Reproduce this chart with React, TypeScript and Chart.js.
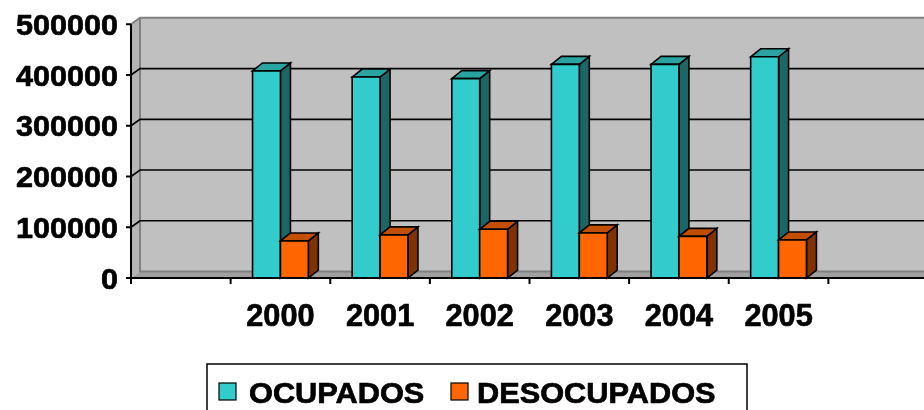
import React, { useEffect, useRef } from 'react';
import { Chart, registerables } from 'chart.js';

Chart.register(...registerables);

// ---- data ----
const categories = ['', '2000', '2001', '2002', '2003', '2004', '2005', ''];
const ocupados = [null, 408000, 396000, 393000, 421000, 421000, 436000, null];
const desocupados = [null, 73000, 85000, 96000, 89000, 82000, 75000, null];
const yTicks = [0, 100000, 200000, 300000, 400000, 500000];
const seriesNames = ['OCUPADOS', 'DESOCUPADOS'];

// ---- styles ----
const FRONT = ['#33CCCC', '#FF6600'];
const TOP = ['#2AA3A3', '#C24E00'];
const SIDE = ['#1D6666', '#803300'];
const FONT = '"Liberation Sans", Arial, sans-serif';

const CW = 932;
const CH = 410;

function drawScaledText(ctx: CanvasRenderingContext2D, text: string, x: number, y: number, font: string, sx: number, align: CanvasTextAlign) {
  ctx.save();
  ctx.translate(x, y);
  ctx.scale(sx, 1);
  ctx.font = font;
  ctx.textAlign = align;
  ctx.textBaseline = 'alphabetic';
  ctx.fillStyle = '#000';
  ctx.strokeStyle = '#000';
  ctx.lineWidth = 0.7;
  ctx.lineJoin = 'round';
  ctx.fillText(text, 0, 0);
  ctx.strokeText(text, 0, 0);
  ctx.restore();
}

function poly(ctx: CanvasRenderingContext2D, pts: number[][], fill: string | null, stroke: string | null, lw = 1.5) {
  ctx.beginPath();
  ctx.moveTo(pts[0][0], pts[0][1]);
  for (let i = 1; i < pts.length; i++) ctx.lineTo(pts[i][0], pts[i][1]);
  ctx.closePath();
  if (fill) {
    ctx.fillStyle = fill;
    ctx.fill();
  }
  if (stroke) {
    ctx.strokeStyle = stroke;
    ctx.lineWidth = lw;
    ctx.stroke();
  }
}

const threeD = {
  id: 'threeD',
  beforeDatasetsDraw(chart: any) {
    const { ctx, chartArea: a, scales } = chart;
    const ys = scales.y;
    const xs = scales.x;
    const WX = 9;
    const WY = -6.5;
    ctx.save();
    ctx.lineJoin = 'miter';

    // side wall
    poly(ctx, [[a.left, a.top], [a.left + WX, a.top + WY], [a.left + WX, a.bottom + WY], [a.left, a.bottom]], '#B4B4B4', null);
    // back wall
    ctx.fillStyle = '#C0C0C0';
    ctx.fillRect(a.left + WX, a.top + WY, a.right - a.left + 20, a.bottom - a.top);
    // floor
    poly(ctx, [[a.left, a.bottom], [a.left + WX, a.bottom + WY], [a.right + WX + 20, a.bottom + WY], [a.right + 20, a.bottom]], '#A0A0A0', null);

    // wall edges
    ctx.strokeStyle = '#808080';
    ctx.lineWidth = 2;
    ctx.beginPath();
    ctx.moveTo(a.left, a.top);
    ctx.lineTo(a.left + WX, a.top + WY);
    ctx.lineTo(a.right + 40, a.top + WY);
    ctx.moveTo(a.left + WX, a.top + WY);
    ctx.lineTo(a.left + WX, a.bottom + WY);
    ctx.lineTo(a.right + 40, a.bottom + WY);
    ctx.stroke();

    // gridlines
    ctx.strokeStyle = '#000';
    ctx.lineWidth = 1.7;
    for (const v of yTicks) {
      if (v === 0 || v === yTicks[yTicks.length - 1]) continue;
      const py = ys.getPixelForValue(v);
      ctx.beginPath();
      ctx.moveTo(a.left, py);
      ctx.lineTo(a.left + WX, py + WY);
      ctx.lineTo(a.right + 40, py + WY);
      ctx.stroke();
    }

    // bars
    const BX = 10;
    const BY = -8;
    const metas = [chart.getDatasetMeta(0), chart.getDatasetMeta(1)];
    for (let i = 0; i < categories.length; i++) {
      for (let d = 0; d < metas.length; d++) {
        const raw = chart.data.datasets[d].data[i];
        if (raw === null || raw === undefined) continue;
        const el = metas[d].data[i];
        const p = el.getProps(['x', 'y', 'base', 'width'], true);
        const l = p.x - p.width / 2;
        const r = p.x + p.width / 2;
        const t = Math.min(p.y, p.base);
        const b = Math.max(p.y, p.base);
        poly(ctx, [[r, t], [r + BX, t + BY], [r + BX, b + BY], [r, b]], SIDE[d], '#000', 1.6);
        poly(ctx, [[l, t], [l + BX, t + BY], [r + BX, t + BY], [r, t]], TOP[d], '#000', 1.6);
        poly(ctx, [[l, t], [r, t], [r, b], [l, b]], FRONT[d], '#000', 1.6);
      }
    }

    // axes
    ctx.strokeStyle = '#000';
    ctx.lineWidth = 2;
    ctx.beginPath();
    ctx.moveTo(a.left, a.top);
    ctx.lineTo(a.left, a.bottom + 6);
    ctx.moveTo(a.left - 1, a.bottom);
    ctx.lineTo(a.right + 10, a.bottom);
    for (const v of yTicks) {
      const py = ys.getPixelForValue(v);
      ctx.moveTo(a.left - 5, py);
      ctx.lineTo(a.left, py);
    }
    const n = categories.length;
    for (let i = 1; i <= n; i++) {
      const px = xs.getPixelForValue(i - 0.5);
      ctx.moveTo(px, a.bottom);
      ctx.lineTo(px, a.bottom + 6);
    }
    ctx.stroke();
    ctx.restore();
    return false;
  },
  afterDraw(chart: any) {
    const { ctx, chartArea: a, scales } = chart;
    const ys = scales.y;
    const xs = scales.x;
    // y labels
    for (const v of yTicks) {
      const py = ys.getPixelForValue(v);
      drawScaledText(ctx, String(v), a.left - 13, py + 10.5, `bold 30px ${FONT}`, 1.02, 'right');
    }
    // x labels
    categories.forEach((c, i) => {
      if (!c) return;
      drawScaledText(ctx, c, xs.getPixelForValue(i), 326, `bold 32px ${FONT}`, 0.96, 'center');
    });
    // legend
    ctx.save();
    ctx.strokeStyle = '#000';
    ctx.lineWidth = 1.5;
    ctx.strokeRect(207, 364, 540, 52);
    const squares = [219, 451];
    const texts = [249, 477];
    for (let d = 0; d < seriesNames.length; d++) {
      ctx.fillStyle = FRONT[d];
      ctx.fillRect(squares[d], 383, 17, 17);
      ctx.lineWidth = 1.2;
      ctx.strokeRect(squares[d], 383, 17, 17);
      drawScaledText(ctx, seriesNames[d], texts[d], 403, `bold 29px ${FONT}`, 1.06, 'left');
    }
    ctx.restore();
  },
};

export default function App() {
  const ref = useRef<HTMLCanvasElement | null>(null);
  useEffect(() => {
    if (!ref.current) return;
    const chart = new Chart(ref.current, {
      type: 'bar',
      data: {
        labels: categories,
        datasets: [
          { label: seriesNames[0], data: ocupados, backgroundColor: FRONT[0] },
          { label: seriesNames[1], data: desocupados, backgroundColor: FRONT[1] },
        ],
      },
      options: {
        animation: false,
        responsive: false,
        devicePixelRatio: 1,
        datasets: { bar: { categoryPercentage: 0.56, barPercentage: 1 } },
        layout: { padding: { left: 131, right: 4, top: 24.3, bottom: 132 } },
        scales: {
          x: { display: false, offset: true },
          y: { display: false, min: 0, max: 500000 },
        },
        plugins: { legend: { display: false }, tooltip: { enabled: false } },
      },
      plugins: [threeD],
    } as any);
    return () => chart.destroy();
  }, []);
  return (
    <div style={{ position: 'absolute', left: 0, top: 0, width: 924, height: 410, overflow: 'hidden', background: '#fff' }}>
      <canvas ref={ref} width={CW} height={CH} style={{ display: 'block' }} />
    </div>
  );
}
